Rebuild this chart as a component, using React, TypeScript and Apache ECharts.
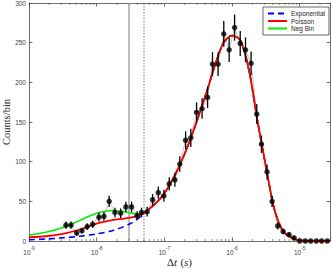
import React, { useEffect, useRef } from "react";
import * as echarts from "echarts";

// Measured data (bin centre in seconds, counts per bin)
const dataX = [
  3.52e-9, 4.17e-9, 5.06e-9, 6.05e-9, 7.24e-9, 8.71e-9, 1.08e-8, 1.28e-8, 1.53e-8, 1.86e-8,
  2.26e-8, 2.7e-8, 3.28e-8, 3.95e-8, 4.6e-8, 5.57e-8, 6.7e-8, 8.13e-8, 9.84e-8, 1.18e-7,
  1.43e-7, 1.69e-7, 2.06e-7, 2.46e-7, 2.99e-7, 3.61e-7, 4.35e-7, 5.14e-7, 6.22e-7, 7.55e-7,
  9.06e-7, 1.09e-6, 1.32e-6, 1.58e-6, 1.91e-6, 2.32e-6, 2.72e-6, 3.29e-6, 3.9e-6, 4.73e-6,
  5.68e-6, 6.95e-6, 8.24e-6, 1.0e-5, 1.21e-5, 1.45e-5, 1.76e-5, 2.11e-5, 2.55e-5,
];
const dataY = [
  20, 20, 10, 13, 18, 21, 30, 31, 50, 36,
  35, 43, 43, 32, 36, 37, 52, 61, 57, 72,
  77, 97, 127, 130, 162, 167, 181, 223, 223, 261,
  241, 269, 249, 241, 224, 160, 122, 87, 50, 19,
  12, 8, 4, 0, 0, 0, 0, 0, 0,
];

// Fit curves sampled at these times (s)
const curveX = [
  1e-9, 1.78e-9, 3.16e-9, 5.62e-9, 1e-8, 1.78e-8, 3.16e-8, 4.47e-8, 5.62e-8, 7.94e-8,
  1e-7, 1.33e-7, 1.78e-7, 2.37e-7, 3.16e-7, 4.22e-7, 5.62e-7, 7.5e-7, 1e-6, 1.33e-6,
  1.78e-6, 2.37e-6, 3.16e-6, 4.22e-6, 5.62e-6, 7.5e-6, 1e-5, 1.78e-5, 2.8e-5,
];
const expY = [
  1.5, 2.5, 4, 6, 9, 13.5, 22, 31, 38.5, 50,
  60, 78, 100, 126, 156, 188, 222, 250, 259, 253,
  215, 152, 94, 40, 13, 4, 0.8, 0, 0,
];
const poissonY = [
  4.7, 6, 9, 14.5, 22, 26.5, 29.5, 33, 38.5, 50,
  60, 78, 100, 126, 156, 188, 222, 250, 259, 253,
  215, 152, 94, 40, 13, 4, 0.8, 0, 0,
];
const negBinY = [
  7.5, 11, 17, 26, 35, 38.5, 35.5, 33.5, 38.5, 50,
  60, 78, 100, 126, 156, 188, 222, 250, 259, 253,
  215, 152, 94, 40, 13, 4, 0.8, 0, 0,
];

const seriesNames = ["Exponential", "Poisson", "Neg Bin"];
const xMin = 1e-9;
const xMax = 2.8e-5;
const decadeExps = [-9, -8, -7, -6, -5];
const yMin = 0;
const yMax = 300;
const yStep = 50;
const refLines = [3e-8, 5e-8];

const AXIS_COLOR = "#4a4a4a";

export default function App() {
  const ref = useRef<HTMLDivElement>(null);
  useEffect(() => {
    if (!ref.current) return;
    const chart = echarts.init(ref.current, undefined, { renderer: "svg" });

    const minorTicks: number[][] = [];
    decadeExps.forEach((e) => {
      for (let m = 2; m <= 9; m++) {
        const v = m * Math.pow(10, e);
        if (v < xMax) minorTicks.push([v, 0]);
      }
    });

    const xLabel = (v: number) => {
      const l = Math.log10(v);
      const r = Math.round(l);
      if (Math.abs(l - r) > 1e-6) return "";
      return `{b|10}{s|${r}}`;
    };

    const xAxisCommon = {
      type: "log" as const,
      logBase: 10,
      min: xMin,
      max: xMax,
      splitLine: { show: false },
      axisLine: { show: true, onZero: false, lineStyle: { color: AXIS_COLOR, width: 0.8 } },
      axisTick: { show: true, inside: true, length: 3.5, lineStyle: { color: AXIS_COLOR, width: 0.8 } },
    };
    const yAxisCommon = {
      type: "value" as const,
      min: yMin,
      max: yMax,
      interval: yStep,
      splitLine: { show: false },
      axisLine: { show: true, lineStyle: { color: AXIS_COLOR, width: 0.8 } },
      axisTick: { show: true, inside: true, length: 3.5, lineStyle: { color: AXIS_COLOR, width: 0.8 } },
    };

    const curveData = (ys: number[]) => curveX.map((x, i) => [x, ys[i]]);

    chart.setOption({
      animation: false,
      grid: { left: 29, right: 2, top: 3, bottom: 27, containLabel: false, outerBoundsMode: "none" },
      legend: {
        data: seriesNames,
        orient: "vertical",
        left: 263,
        top: 7,
        itemWidth: 19,
        itemHeight: 6,
        itemGap: 0.5,
        padding: [3, 4, 3, 4],
        backgroundColor: "#ffffff",
        borderColor: "#262626",
        borderWidth: 0.7,
        borderRadius: 0,
        itemStyle: { opacity: 0 },
        textStyle: { fontSize: 6.5, fontFamily: "Liberation Sans", color: "#262626", lineHeight: 7, padding: [0, 0, 0, -1] },
      },
      xAxis: [
        {
          ...xAxisCommon,
          position: "bottom",
          name: "{d|Δ}{i|t} {d|(}{i|s}{d|)}",
          nameLocation: "middle",
          nameGap: 14.5,
          nameMoveOverlap: false,
          nameTextStyle: {
            rich: {
              d: { fontFamily: "Liberation Serif", fontSize: 11, color: "#262626" },
              i: { fontFamily: "Liberation Serif", fontSize: 11, fontStyle: "italic", color: "#262626" },
            },
          },
          axisLabel: {
            show: true,
            margin: 5,
            formatter: xLabel,
            rich: {
              b: { fontFamily: "Liberation Sans", fontSize: 6.5, color: "#404040", lineHeight: 10, verticalAlign: "bottom" },
              s: { fontFamily: "Liberation Sans", fontSize: 4.8, color: "#404040", lineHeight: 5, verticalAlign: "top" },
            },
          },
        },
        {
          ...xAxisCommon,
          position: "top",
          axisLabel: { show: false },
        },
      ],
      yAxis: [
        {
          ...yAxisCommon,
          position: "left",
          name: "Counts/bin",
          nameLocation: "middle",
          nameGap: 17,
          nameRotate: 90,
          nameMoveOverlap: false,
          nameTextStyle: { fontFamily: "Liberation Serif", fontSize: 10.5, color: "#262626" },
          axisLabel: { show: true, margin: 3, fontFamily: "Liberation Sans", fontSize: 6.5, color: "#404040" },
        },
        {
          ...yAxisCommon,
          position: "right",
          axisLabel: { show: false },
        },
      ],
      series: [
        {
          name: "ref-lines",
          type: "custom",
          silent: true,
          data: refLines.map((v, i) => [v, 0, i]),
          renderItem: (params: any, api: any) => {
            const cs = params.coordSys;
            const px = api.coord([api.value(0), 0])[0];
            const dotted = api.value(2) === 1;
            if (dotted) {
              return {
                type: "line",
                shape: { x1: px, y1: cs.y, x2: px, y2: cs.y + cs.height },
                style: { stroke: "#9a9a9a", lineWidth: 1.3, lineDash: [1.5, 1.5] },
              };
            }
            return {
              type: "rect",
              shape: { x: px - 1, y: cs.y, width: 2, height: cs.height },
              style: { fill: "#bdbdbd", stroke: null },
            };
          },
          z: 1,
        },
        {
          name: "data-line",
          type: "line",
          data: dataX.map((x, i) => [x, dataY[i]]),
          symbol: "none",
          lineStyle: { color: "#9a9a9a", width: 0.6 },
          z: 1,
          silent: true,
        },
        {
          name: "minor-ticks",
          type: "custom",
          silent: true,
          data: minorTicks,
          renderItem: (params: any, api: any) => {
            const cs = params.coordSys;
            const px = api.coord([api.value(0), 0])[0];
            const st = { stroke: AXIS_COLOR, lineWidth: 0.6 };
            return {
              type: "group",
              children: [
                { type: "line", shape: { x1: px, y1: cs.y + cs.height, x2: px, y2: cs.y + cs.height - 2 }, style: st },
                { type: "line", shape: { x1: px, y1: cs.y, x2: px, y2: cs.y + 2 }, style: st },
              ],
            };
          },
          z: 2,
        },
        {
          name: seriesNames[0],
          type: "line",
          data: curveData(expY),
          smooth: 0.3,
          symbol: "none",
          lineStyle: { color: "#0000ff", width: 1.6, type: [6, 4] },
          itemStyle: { color: "#0000ff" },
          z: 4,
        },
        {
          name: seriesNames[1],
          type: "line",
          data: curveData(poissonY),
          smooth: 0.3,
          symbol: "none",
          lineStyle: { color: "#ff0000", width: 1.8 },
          itemStyle: { color: "#ff0000" },
          z: 5,
        },
        {
          name: seriesNames[2],
          type: "line",
          data: curveData(negBinY),
          smooth: 0.3,
          symbol: "none",
          lineStyle: { color: "#00ee00", width: 1.6 },
          itemStyle: { color: "#00ee00" },
          z: 3,
        },
        {
          name: "errors",
          type: "custom",
          silent: true,
          data: dataX.map((x, i) => [x, dataY[i], Math.sqrt(dataY[i])]),
          renderItem: (params: any, api: any) => {
            const x = api.value(0);
            const y = api.value(1);
            const e = api.value(2);
            if (!(e > 0)) return null;
            const p1 = api.coord([x, y - e]);
            const p2 = api.coord([x, y + e]);
            return {
              type: "line",
              shape: { x1: p1[0], y1: p1[1], x2: p2[0], y2: p2[1] },
              style: { stroke: "#000000", lineWidth: 1.3 },
            };
          },
          z: 6,
        },
        {
          name: "data",
          type: "scatter",
          data: dataX.map((x, i) => [x, dataY[i]]),
          symbol: "circle",
          symbolSize: 5.5,
          itemStyle: { color: "#000000" },
          z: 7,
          silent: true,
        },
      ],
    });
    return () => chart.dispose();
  }, []);
  return <div ref={ref} style={{ position: "absolute", left: 0, top: 0, width: 332, height: 268 }} />;
}
